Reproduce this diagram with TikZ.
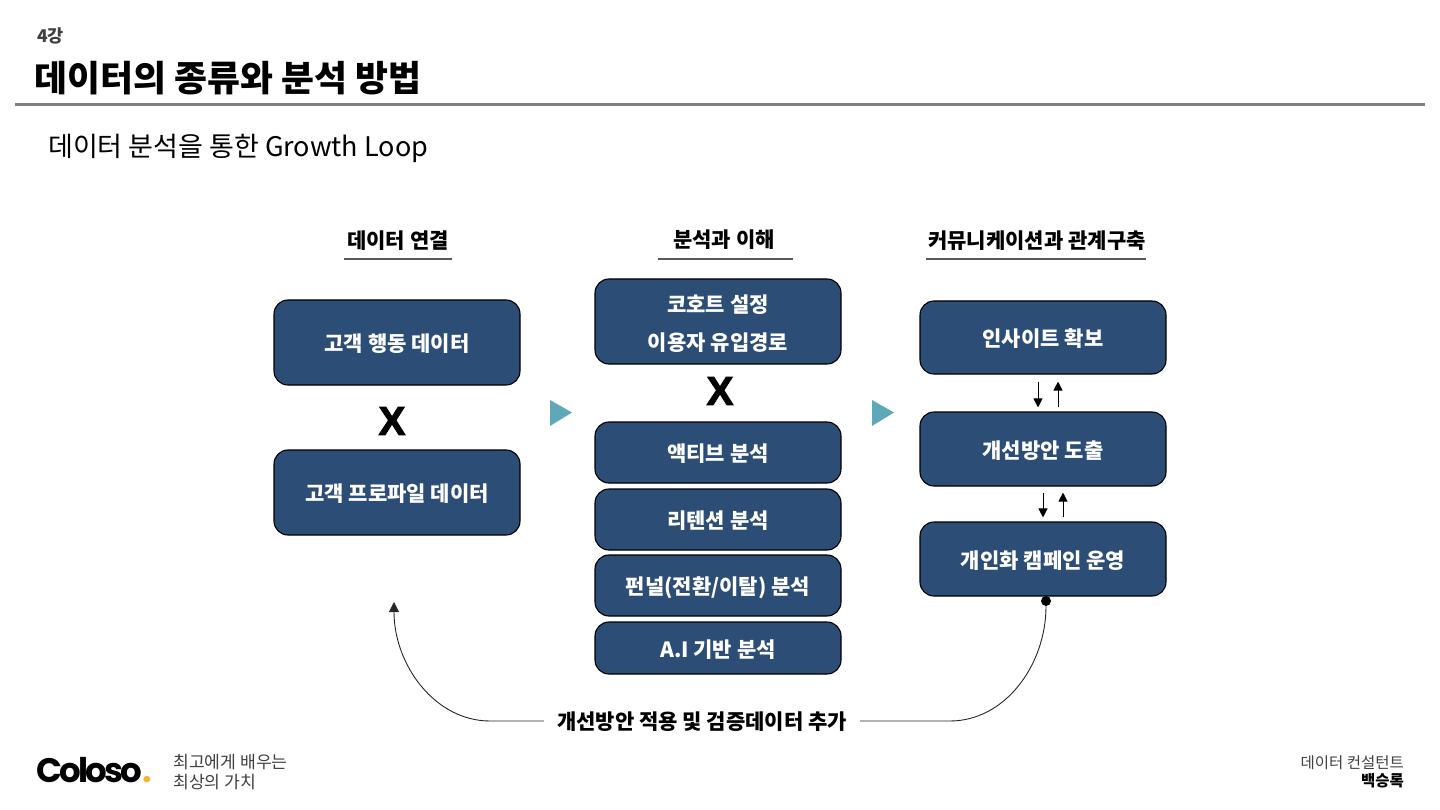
\documentclass[tikz,border=0pt]{standalone}
\usepackage{fontspec}
\setmainfont{Noto Sans CJK KR}
\newfontfamily\logofont{Poppins}[LetterSpace=-8]
\newfontfamily\markfont{Liberation Sans}[BoldFeatures={FakeBold=2.5}]
\usetikzlibrary{arrows.meta}

\definecolor{boxblue}{HTML}{2C4D75}
\definecolor{tealmark}{HTML}{5FA8B8}
\definecolor{logodot}{HTML}{F5B335}
\definecolor{softtext}{HTML}{404040}

\tikzset{
  stagebox/.style={draw=black, line width=1.1pt, fill=boxblue, rounded corners=14pt, text=white,
    font=\fontsize{21}{38}\selectfont\bfseries, align=center, inner sep=0pt, minimum width=246pt,
    text height=22pt, text depth=4pt},
  heading/.style={font=\fontsize{21}{25}\selectfont\bfseries, inner sep=0pt},
  headrule/.style={draw=black!65, line width=1.1pt},
  timesmark/.style={font=\markfont\fontsize{40}{46}\selectfont\bfseries, inner sep=0pt},
  nextmark/.style={fill=tealmark},
  stepline/.style={line width=0.9pt, -{Triangle[length=9pt,width=9pt]}},
  loopline/.style={line width=0.9pt, black!85},
  footnote/.style={font=\fontsize{15.5}{21}\selectfont, text=softtext, inner sep=0pt}
}

\begin{document}
\begin{tikzpicture}[x=1pt, y=-1pt]
\useasboundingbox (0, 0) rectangle (1440, 810);

% Slide header
\node[anchor=west, inner sep=0pt, text=softtext, font=\fontsize{17.5}{20}\selectfont\bfseries] (lesson) at (37, 35.5) {4강};
\node[anchor=west, inner sep=0pt, font=\fontsize{35.8}{40}\selectfont\bfseries] (title) at (34, 78) {데이터의 종류와 분석 방법};
\draw[line width=3pt, black!50] (15, 104.5) -- (1425, 104.5);
\node[anchor=west, inner sep=0pt, font=\fontsize{27}{32}\selectfont] (subtitle) at (48, 148.5) {데이터 분석을 통한 Growth Loop};

% Column headings
\node[heading] (headdata) at (398, 241) {데이터 연결};
\draw[headrule] (344, 259) -- (452, 259);
\node[heading] (headanalysis) at (724, 240) {분석과 이해};
\draw[headrule] (658, 259) -- (793, 259);
\node[heading] (headcomm) at (1037, 241) {커뮤니케이션과 관계구축};
\draw[headrule] (926, 259) -- (1146, 259);

% Left column
\node[stagebox, minimum height=85pt] (behavior) at (397, 342.5) {고객 행동 데이터};
\node[timesmark] (timesleft) at (392, 421) {X};
\node[stagebox, minimum height=85pt] (profile) at (397, 492.5) {고객 프로파일 데이터};

% Middle column
\node[stagebox, minimum height=85pt, text height=62pt] (cohort) at (718, 321.5) {코호트 설정\\이용자 유입경로};
\node[timesmark] (timesmiddle) at (720, 391) {X};
\node[stagebox, minimum height=61pt] (active) at (718, 452.5) {액티브 분석};
\node[stagebox, minimum height=61pt] (retention) at (718, 519.5) {리텐션 분석};
\node[stagebox, minimum height=61pt] (funnel) at (718, 585.5) {펀널(전환/이탈) 분석};
\node[stagebox, minimum height=52pt] (aibased) at (718, 648) {A.I 기반 분석};

% Right column
\node[stagebox, minimum height=73pt] (insight) at (1043, 337.5) {인사이트 확보};
\node[stagebox, minimum height=74pt] (improve) at (1043, 449) {개선방안 도출};
\node[stagebox, minimum height=74pt] (campaign) at (1043, 559) {개인화 캠페인 운영};

% Markers between columns
\fill[nextmark] (550, 400) -- (572, 412.5) -- (550, 426) -- cycle;
\fill[nextmark] (872, 400) -- (894, 412.5) -- (872, 426) -- cycle;

% Arrows between right column boxes
\draw[stepline, shorten <=7pt, shorten >=4pt] ([xshift=-5pt]insight.south) -- ([xshift=-5pt]improve.north);
\draw[stepline, shorten <=4pt, shorten >=7pt] ([xshift=15pt]improve.north) -- ([xshift=15pt]insight.south);
\draw[stepline, shorten <=6pt, shorten >=4pt] (improve.south) -- (campaign.north);
\draw[stepline, shorten <=4pt, shorten >=6pt] ([xshift=20pt]campaign.north) -- ([xshift=20pt]improve.south);

% Feedback loop
\node[font=\fontsize{21}{25}\selectfont\bfseries, inner sep=0pt, inner xsep=13pt] (feedback) at (702, 721.5) {개선방안 적용 및 검증데이터 추가};
\coordinate (loopend) at (394, 602);
\node[circle, fill=black, inner sep=0pt, minimum size=10pt] (loopstart) at (1046, 601) {};
\draw[loopline] (loopstart) .. controls (1046, 665) and (1005, 721) .. (950, 721) -- (feedback.east |- 0, 721);
\draw[loopline, -{Triangle[length=10pt,width=10pt]}] (feedback.west |- 0, 721) -- (490, 721) .. controls (435, 721) and (394, 665) .. (loopend);

% Footer
\node[anchor=west, inner sep=0pt, font=\logofont\fontsize{34}{40}\selectfont\bfseries] (logo) at (36, 770) {Coloso\textcolor{logodot}{.}};
\node[footnote, anchor=west, font=\fontsize{17.2}{21}\selectfont] (mottotop) at (173, 762) {최고에게 배우는};
\node[footnote, anchor=west, font=\fontsize{17.2}{21}\selectfont] (mottobottom) at (173, 782) {최상의 가치};
\node[footnote, anchor=east] (role) at (1404, 763) {데이터 컨설턴트};
\node[footnote, anchor=east, text=black, font=\fontsize{15.5}{21}\selectfont\bfseries] (speaker) at (1404, 781) {백승록};

\end{tikzpicture}
\end{document}
